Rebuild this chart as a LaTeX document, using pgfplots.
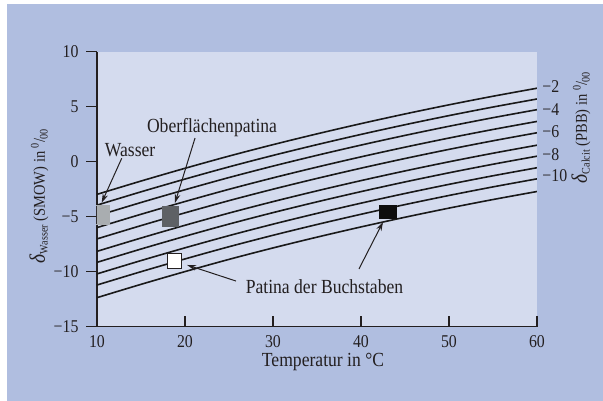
\documentclass[border=0pt]{standalone}
\usepackage{fontspec}
\setmainfont[FakeStretch=0.88]{Liberation Serif}
\usepackage{pgfplots}
\usepackage{pgfplotstable}
\pgfplotsset{compat=1.18}
\usetikzlibrary{arrows.meta}
\definecolor{outerbg}{RGB}{176,190,224}
\definecolor{plotbg}{RGB}{212,219,238}
\definecolor{txt}{RGB}{35,31,32}
\definecolor{wgray}{RGB}{169,173,176}
\definecolor{dgray}{RGB}{94,97,101}
\newcommand{\permil}{\textsuperscript{0}\kern-0.5pt/\kern-0.5pt\textsubscript{00}}
\newcommand{\annfont}{\fontsize{20}{20}\selectfont}
\newcommand{\labfont}{\fontsize{16.5}{16.5}\selectfont}
\newcommand{\dsub}[1]{{\fontsize{22}{22}\selectfont\textit{δ}}\raisebox{-0.35ex}{\fontsize{11.5}{11.5}\selectfont #1}}

\pgfplotstableread{
x   l1     l2     l3     l4     l5     l6     l7     l8      l9      l10
10  -2.97  -3.95  -4.92  -5.99  -7.02  -8.15  -9.15  -10.20  -11.21  -12.36
15  -1.76  -2.74  -3.71  -4.78  -5.81  -6.94  -7.94  -8.99   -10.00  -11.15
20  -0.60  -1.58  -2.55  -3.62  -4.65  -5.78  -6.78  -7.83   -8.84   -9.99
25   0.51  -0.47  -1.44  -2.51  -3.54  -4.67  -5.67  -6.72   -7.73   -8.88
30   1.55   0.57  -0.40  -1.47  -2.50  -3.63  -4.63  -5.68   -6.69   -7.84
35   2.53   1.55   0.58  -0.49  -1.52  -2.65  -3.65  -4.70   -5.71   -6.86
40   3.46   2.48   1.51   0.44  -0.59  -1.72  -2.72  -3.77   -4.78   -5.93
45   4.34   3.36   2.39   1.32   0.29  -0.84  -1.84  -2.89   -3.90   -5.05
50   5.17   4.19   3.22   2.15   1.12  -0.01  -1.01  -2.06   -3.07   -4.22
55   5.95   4.97   4.00   2.93   1.90   0.77  -0.23  -1.28   -2.29   -3.44
60   6.68   5.70   4.73   3.66   2.63   1.50   0.50  -0.55   -1.56   -2.71
}\curves

\begin{document}
\begin{tikzpicture}
\useasboundingbox (0pt,0pt) rectangle (603pt,401pt);
\fill[white] (0pt,0pt) rectangle (603pt,401pt);
\fill[outerbg] (7pt,0pt) rectangle (603pt,397pt);
\begin{axis}[
  at={(97pt,74.3pt)}, anchor=south west,
  scale only axis, width=440pt, height=275pt,
  xmin=10, xmax=60, ymin=-15, ymax=10,
  axis x line=bottom, axis y line=left,
  axis line style={-, line width=1.2pt, color=txt},
  xtick={10,20,30,40,50,60}, xticklabels={10,20,30,40,50,60},
  ytick={-15,-10,-5,0,5,10}, yticklabels={−15,−10,−5,0,5,10},
  xtick align=inside, ytick align=outside,
  major tick length=11pt,
  tick style={line width=1.2pt, color=txt},
  tick label style={font=\fontsize{18}{18}\selectfont, text=txt},
  yticklabel style={xshift=-4pt},
  xticklabel style={yshift=-5pt},
  axis background/.style={fill=plotbg},
  clip mode=individual, clip marker paths=true,
  every axis plot/.append style={line width=1.6pt, color=black!90},
]
\addplot[smooth, no marks] table[x=x, y=l1]{\curves};
\addplot[smooth, no marks] table[x=x, y=l2]{\curves};
\addplot[smooth, no marks] table[x=x, y=l3]{\curves};
\addplot[smooth, no marks] table[x=x, y=l4]{\curves};
\addplot[smooth, no marks] table[x=x, y=l5]{\curves};
\addplot[smooth, no marks] table[x=x, y=l6]{\curves};
\addplot[smooth, no marks] table[x=x, y=l7]{\curves};
\addplot[smooth, no marks] table[x=x, y=l8]{\curves};
\addplot[smooth, no marks] table[x=x, y=l9]{\curves};
\addplot[smooth, no marks] table[x=x, y=l10]{\curves};
% data squares
\addplot[only marks, mark=square*, mark size=7.75pt, mark options={yscale=1.206, fill=wgray, draw=wgray, line width=0pt}] coordinates {(10.5,-4.85)};
\addplot[only marks, mark=square*, mark size=7.85pt, mark options={yscale=1.274, fill=dgray, draw=dgray, line width=0pt}] coordinates {(18.35,-4.95)};
\addplot[only marks, mark=square*, mark size=7.4pt, mark options={fill=white, draw=txt, line width=1pt}] coordinates {(18.81,-9.05)};
\addplot[only marks, mark=square*, mark size=8.35pt, mark options={yscale=0.8, fill=black!95, draw=black!95, line width=0pt}] coordinates {(43.1,-4.55)};

% annotations
\node[font=\annfont, text=txt] at (axis cs:13.76,1.04) {Wasser};
\draw[-{Stealth[length=9pt,width=5.5pt]}, line width=1pt, txt] (axis cs:12.81,0.31) -- (axis cs:10.53,-3.73);
\node[font=\annfont, text=txt] at (axis cs:23.07,3.06) {Oberflächenpatina};
\draw[-{Stealth[length=9pt,width=5.5pt]}, line width=1pt, txt] (axis cs:21.14,2.15) -- (axis cs:18.86,-3.75);
\node[font=\annfont, text=txt] at (axis cs:35.85,-11.35) {Patina der Buchstaben};
\draw[-{Stealth[length=9pt,width=5.5pt]}, line width=1pt, txt] (axis cs:25.8,-10.85) -- (axis cs:20.23,-9.39);
\draw[-{Stealth[length=9pt,width=5.5pt]}, line width=1pt, txt] (axis cs:39.77,-9.75) -- (axis cs:42.5,-5.48);

% right-hand calcite scale
\node[anchor=west, inner sep=0pt, xshift=5.3pt, font=\fontsize{18}{18}\selectfont, text=txt] at (axis cs:60,6.82) {−2};
\node[anchor=west, inner sep=0pt, xshift=5.3pt, font=\fontsize{18}{18}\selectfont, text=txt] at (axis cs:60,4.76) {−4};
\node[anchor=west, inner sep=0pt, xshift=5.3pt, font=\fontsize{18}{18}\selectfont, text=txt] at (axis cs:60,2.73) {−6};
\node[anchor=west, inner sep=0pt, xshift=5.3pt, font=\fontsize{18}{18}\selectfont, text=txt] at (axis cs:60,0.67) {−8};
\node[anchor=west, inner sep=0pt, xshift=5.3pt, font=\fontsize{18}{18}\selectfont, text=txt] at (axis cs:60,-1.27) {−10};
\node[rotate=90, font=\labfont, text=txt] at (axis cs:65.0,3.11) {\dsub{Calcit} (PBB) in \permil};
\node[rotate=90, font=\labfont, text=txt] at (axis cs:3.41,-3.12) {\dsub{Wasser} (SMOW) in \permil};
\node[font=\annfont, text=txt] at (axis cs:35.68,-18.21) {Temperatur in °C};
\end{axis}
\end{tikzpicture}
\end{document}
